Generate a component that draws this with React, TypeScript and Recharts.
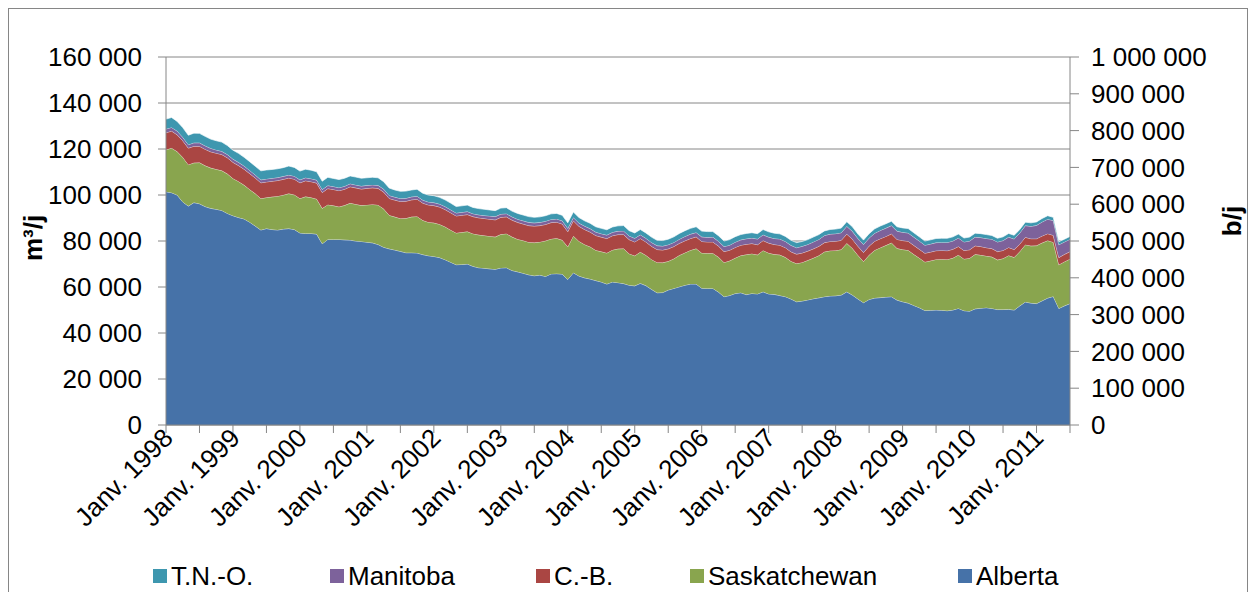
import React from 'react';
import { AreaChart, Area, XAxis, YAxis, CartesianGrid } from 'recharts';

// Monthly production, m³/j, Jan 1998 – Jul 2011
const alberta = [
  101400, 101000, 100000, 97000, 95200, 96700, 96200, 95000, 94200, 93800, 93300, 92000,
  91000, 90200, 89600, 88200, 86500, 84800, 85400, 85000, 84800, 85200, 85400, 85000,
  83500, 83300, 83300, 83000, 78800, 80700, 80700, 80700, 80500, 80400, 80000, 79800,
  79500, 79200, 78500, 77300, 76600, 76100, 75500, 74900, 74900, 74800, 74100, 73600,
  73300, 72800, 71900, 70800, 69700, 69800, 70000, 69000, 68400, 68200, 67900, 67700,
  68300, 68400, 67200, 66600, 66000, 65300, 64900, 65200, 64600, 65700, 65800, 65600,
  63300, 66200, 64800, 64000, 63500, 62800, 62200, 61300, 62200, 61900, 61500, 60800,
  60500, 61600, 60600, 59000, 57500, 57600, 58700, 59400, 60100, 60800, 61300, 61300,
  59500, 59400, 59400, 57800, 55800, 56300, 57200, 57500, 56700, 57200, 57000, 57900,
  57000, 56800, 56300, 55800, 54800, 53600, 53900, 54400, 54900, 55300, 55800, 56100,
  56200, 56500, 57900, 56500, 54800, 53200, 54600, 55200, 55400, 55600, 55800, 54300,
  53600, 53000, 52000, 51000, 49800, 49900, 50000, 49900, 49700, 50000, 50700, 49700,
  49500, 50500, 50800, 51000, 50700, 50200, 50200, 50300, 50000, 51800, 53500, 53000,
  52800, 54000, 55200, 55900, 50700, 51800, 52800,
];

const saskatchewan = [
  18300, 19400, 18900, 19400, 18000, 17300, 17900, 17800, 17600, 17400, 17300, 17200,
  16200, 15700, 14700, 14200, 14100, 13700, 13500, 14200, 14700, 14800, 15200, 15100,
  15000, 16000, 15600, 15300, 15400, 15100, 14700, 14200, 15000, 16100, 16000, 15700,
  16200, 16700, 17200, 16700, 14600, 14400, 14300, 15000, 15600, 15900, 14900, 14600,
  14600, 14500, 14300, 14000, 13800, 14000, 14100, 14200, 14300, 14200, 14200, 14100,
  14600, 14800, 14600, 14200, 14200, 14200, 14400, 14400, 15500, 15200, 15400, 14800,
  14200, 16000, 15100, 14500, 14000, 13200, 13200, 13500, 13900, 14700, 15200, 13700,
  13100, 13600, 13200, 13000, 13200, 13000, 12500, 12900, 13700, 14100, 14700, 15400,
  15300, 15300, 15300, 15200, 14900, 15100, 15400, 16200, 17400, 17300, 17000, 18000,
  17800, 17400, 17700, 17100, 16400, 16600, 16800, 17200, 17700, 18400, 19500, 19700,
  19700, 19800, 21100, 20300, 19000, 17900, 19300, 20800, 21700, 22500, 23400, 22500,
  22700, 23000, 22200, 21600, 21100, 21500, 22000, 22200, 22300, 22600, 23200, 22500,
  23000, 23700, 23100, 22500, 22400, 21600, 22200, 23400, 22900, 23600, 24900, 24900,
  25200, 25200, 25000, 23600, 19000, 19200, 19400,
];

const colombieBritannique = [
  7400, 7400, 7300, 7200, 7200, 7200, 7100, 7100, 7000, 7000, 7000, 7000,
  7000, 6900, 6900, 6900, 6800, 6800, 6800, 6800, 6800, 6800, 6800, 6800,
  6800, 6900, 6900, 6900, 6900, 7000, 7000, 7000, 7000, 7100, 7100, 7100,
  7200, 7200, 7200, 7300, 7300, 7300, 7400, 7400, 7400, 7500, 7500, 7500,
  7500, 7500, 7500, 7500, 7400, 7400, 7400, 7400, 7400, 7400, 7400, 7400,
  7400, 7300, 7300, 7300, 7200, 7200, 7200, 7100, 7100, 7100, 7000, 7000,
  6600, 6600, 6500, 6500, 6400, 6400, 6300, 6300, 6200, 6200, 6100, 6100,
  6000, 5900, 5800, 5700, 5600, 5500, 5400, 5300, 5200, 5200, 5100, 5100,
  5000, 4900, 4900, 4800, 4700, 4600, 4600, 4500, 4500, 4400, 4400, 4300,
  4300, 4300, 4200, 4200, 4100, 4100, 4100, 4000, 4000, 4000, 4000, 4000,
  4000, 4000, 4000, 4000, 3900, 3900, 3900, 3900, 3900, 3900, 3900, 3900,
  3900, 3900, 3900, 3800, 3800, 3800, 3800, 3800, 3800, 3800, 3700, 3700,
  3700, 3700, 3700, 3600, 3600, 3600, 3500, 3500, 3400, 3300, 3200, 3100,
  3000, 3000, 3000, 3000, 3100, 3200, 3200,
];

const manitoba = [
  1600, 1600, 1600, 1500, 1500, 1500, 1500, 1500, 1500, 1400, 1400, 1400,
  1400, 1400, 1400, 1400, 1300, 1300, 1300, 1300, 1300, 1300, 1300, 1300,
  1300, 1300, 1300, 1300, 1300, 1300, 1300, 1300, 1300, 1300, 1300, 1300,
  1300, 1300, 1300, 1300, 1300, 1300, 1300, 1300, 1300, 1300, 1300, 1300,
  1300, 1300, 1300, 1300, 1300, 1300, 1300, 1300, 1300, 1300, 1400, 1400,
  1400, 1400, 1400, 1400, 1400, 1400, 1400, 1400, 1400, 1400, 1400, 1400,
  1400, 1400, 1400, 1500, 1500, 1500, 1500, 1500, 1500, 1500, 1600, 1600,
  1600, 1600, 1600, 1700, 1700, 1700, 1800, 1800, 1800, 1900, 1900, 1900,
  2000, 2000, 2100, 2100, 2200, 2200, 2300, 2300, 2400, 2400, 2500, 2500,
  2600, 2600, 2700, 2700, 2800, 2800, 2900, 2900, 3000, 3000, 3100, 3200,
  3300, 3300, 3400, 3400, 3400, 3500, 3500, 3500, 3600, 3600, 3600, 3600,
  3600, 3600, 3600, 3600, 3500, 3500, 3500, 3500, 3600, 3600, 3700, 3700,
  3800, 3800, 3900, 4000, 4100, 4200, 4300, 4500, 4600, 4800, 5100, 5400,
  5800, 6100, 6300, 6400, 5600, 5400, 5400,
];

const tno = [
  4300, 4300, 4200, 4200, 4100, 4200, 4100, 4100, 4000, 4000, 4000, 3900,
  3900, 3900, 3800, 3800, 3800, 3900, 3900, 3800, 3800, 3800, 3900, 3800,
  3800, 3700, 3700, 3600, 3600, 3600, 3500, 3500, 3500, 3400, 3400, 3400,
  3300, 3300, 3300, 3200, 3200, 3100, 3100, 3100, 3000, 3000, 3000, 3000,
  3000, 2900, 2900, 2900, 2800, 2800, 2800, 2700, 2700, 2700, 2600, 2600,
  2600, 2600, 2500, 2500, 2500, 2500, 2400, 2400, 2400, 2400, 2400, 2400,
  2400, 2400, 2400, 2300, 2300, 2300, 2300, 2300, 2300, 2300, 2300, 2300,
  2300, 2300, 2300, 2300, 2300, 2400, 2400, 2400, 2500, 2500, 2500, 2500,
  2500, 2500, 2400, 2400, 2400, 2400, 2400, 2300, 2300, 2300, 2300, 2300,
  2300, 2300, 2200, 2200, 2200, 2200, 2100, 2100, 2100, 2100, 2000, 2000,
  2000, 2000, 2000, 2000, 1900, 1900, 1900, 1900, 1900, 1900, 1900, 1900,
  1900, 1900, 1900, 1800, 1800, 1800, 1800, 1800, 1800, 1800, 1700, 1700,
  1700, 1700, 1700, 1700, 1600, 1600, 1600, 1600, 1600, 1500, 1500, 1500,
  1500, 1500, 1500, 1400, 1300, 1200, 1200,
];

const START_YEAR = 1998;
const leftTicks = [0, 20000, 40000, 60000, 80000, 100000, 120000, 140000, 160000];
const rightTicks = [0, 100000, 200000, 300000, 400000, 500000, 600000, 700000, 800000, 900000, 1000000];
const JAN_PREFIX = 'Janv.';

const series = [
  { key: 'alberta', name: 'Alberta', color: '#4672A8', values: alberta },
  { key: 'saskatchewan', name: 'Saskatchewan', color: '#89A54E', values: saskatchewan },
  { key: 'cb', name: 'C.-B.', color: '#AA4643', values: colombieBritannique },
  { key: 'manitoba', name: 'Manitoba', color: '#7D629B', values: manitoba },
  { key: 'tno', name: 'T.N.-O.', color: '#3E97AF', values: tno },
];

// legend item left edges (T.N.-O., Manitoba, C.-B., Saskatchewan, Alberta)
const legendLeft = [153, 330, 536, 690, 958];

const months = alberta.map(
  (_, i) => `${START_YEAR + Math.floor(i / 12)}-${String((i % 12) + 1).padStart(2, '0')}`
);

const data = months.map((m, i) => {
  const row: Record<string, number | string> = { month: m };
  series.forEach((s) => {
    row[s.key] = s.values[i];
  });
  return row;
});

const fmt = (v: number) => String(v).replace(/\B(?=(\d{3})+(?!\d))/g, ' ');

const FONT = '"Liberation Sans", Arial, sans-serif';
const GRAY = '#868686';

const XTick = (props: any) => {
  const { x, y, payload } = props;
  const v: string = payload.value;
  if (!v.endsWith('-01')) return null;
  const label = `${JAN_PREFIX} ${v.slice(0, 4)}`;
  const ax = x + 2;
  const ay = y;
  return (
    <text
      x={ax}
      y={ay}
      dy="0.35em"
      textAnchor="end"
      transform={`rotate(-45, ${ax}, ${ay})`}
      fontSize={26}
      fontFamily={FONT}
      fill="#000"
    >
      {label}
    </text>
  );
};

export default function App() {
  const legendOrder = [...series].reverse();
  return (
    <div
      style={{
        position: 'absolute',
        left: 0,
        top: 0,
        width: 1254,
        height: 592,
        background: '#fff',
        overflow: 'hidden',
        fontFamily: FONT,
      }}
    >
      <div
        style={{
          position: 'absolute',
          left: 8,
          top: 8,
          width: 1238,
          height: 620,
          border: `1px solid ${GRAY}`,
        }}
      />
      <AreaChart
        width={1254}
        height={592}
        data={data}
        margin={{ top: 57, right: 64, bottom: 67, left: 66 }}
        style={{ position: 'absolute', left: 0, top: 0 }}
      >
        <CartesianGrid yAxisId="left" vertical={false} stroke={GRAY} strokeWidth={1} />
        <XAxis
          dataKey="month"
          interval={5}
          height={100}
          tickSize={8}
          tickMargin={0}
          axisLine={{ stroke: GRAY }}
          tickLine={{ stroke: GRAY }}
          tick={<XTick />}
        />
        <YAxis
          yAxisId="left"
          domain={[0, 160000]}
          ticks={leftTicks}
          width={100}
          tickSize={8}
          tickMargin={16}
          tickFormatter={fmt}
          axisLine={{ stroke: GRAY }}
          tickLine={{ stroke: GRAY }}
          tick={{ fontSize: 26, fill: '#000', fontFamily: FONT }}
          allowDataOverflow
        />
        <YAxis
          yAxisId="right"
          orientation="right"
          domain={[0, 1000000]}
          ticks={rightTicks}
          width={120}
          tickSize={9}
          tickMargin={12}
          tickFormatter={fmt}
          axisLine={{ stroke: GRAY }}
          tickLine={{ stroke: GRAY }}
          tick={{ fontSize: 26, fill: '#000', fontFamily: FONT }}
          allowDataOverflow
        />
        {series.map((s) => (
          <Area
            key={s.key}
            yAxisId="left"
            type="linear"
            dataKey={s.key}
            name={s.name}
            stackId="prod"
            fill={s.color}
            fillOpacity={1}
            stroke="#ffffff"
            strokeOpacity={0.65}
            strokeWidth={1}
            isAnimationActive={false}
            dot={false}
            activeDot={false}
          />
        ))}
      </AreaChart>
      <div
        style={{
          position: 'absolute',
          left: 33,
          top: 238,
          transform: 'translate(-50%, -50%) rotate(-90deg)',
          fontSize: 26,
          fontWeight: 'bold',
          whiteSpace: 'nowrap',
          lineHeight: 1,
        }}
      >
        m³/j
      </div>
      <div
        style={{
          position: 'absolute',
          left: 1232,
          top: 221,
          transform: 'translate(-50%, -50%) rotate(-90deg)',
          fontSize: 26,
          fontWeight: 'bold',
          whiteSpace: 'nowrap',
          lineHeight: 1,
        }}
      >
        b/j
      </div>
      {legendOrder.map((s, i) => (
        <div
          key={s.key}
          style={{
            position: 'absolute',
            left: legendLeft[i],
            top: 561,
            display: 'flex',
            alignItems: 'center',
            fontSize: 26,
            lineHeight: '30px',
            whiteSpace: 'nowrap',
          }}
        >
          <span
            style={{
              display: 'inline-block',
              width: 14,
              height: 14,
              background: s.color,
              marginRight: 4,
            }}
          />
          <span>{s.name}</span>
        </div>
      ))}
    </div>
  );
}
